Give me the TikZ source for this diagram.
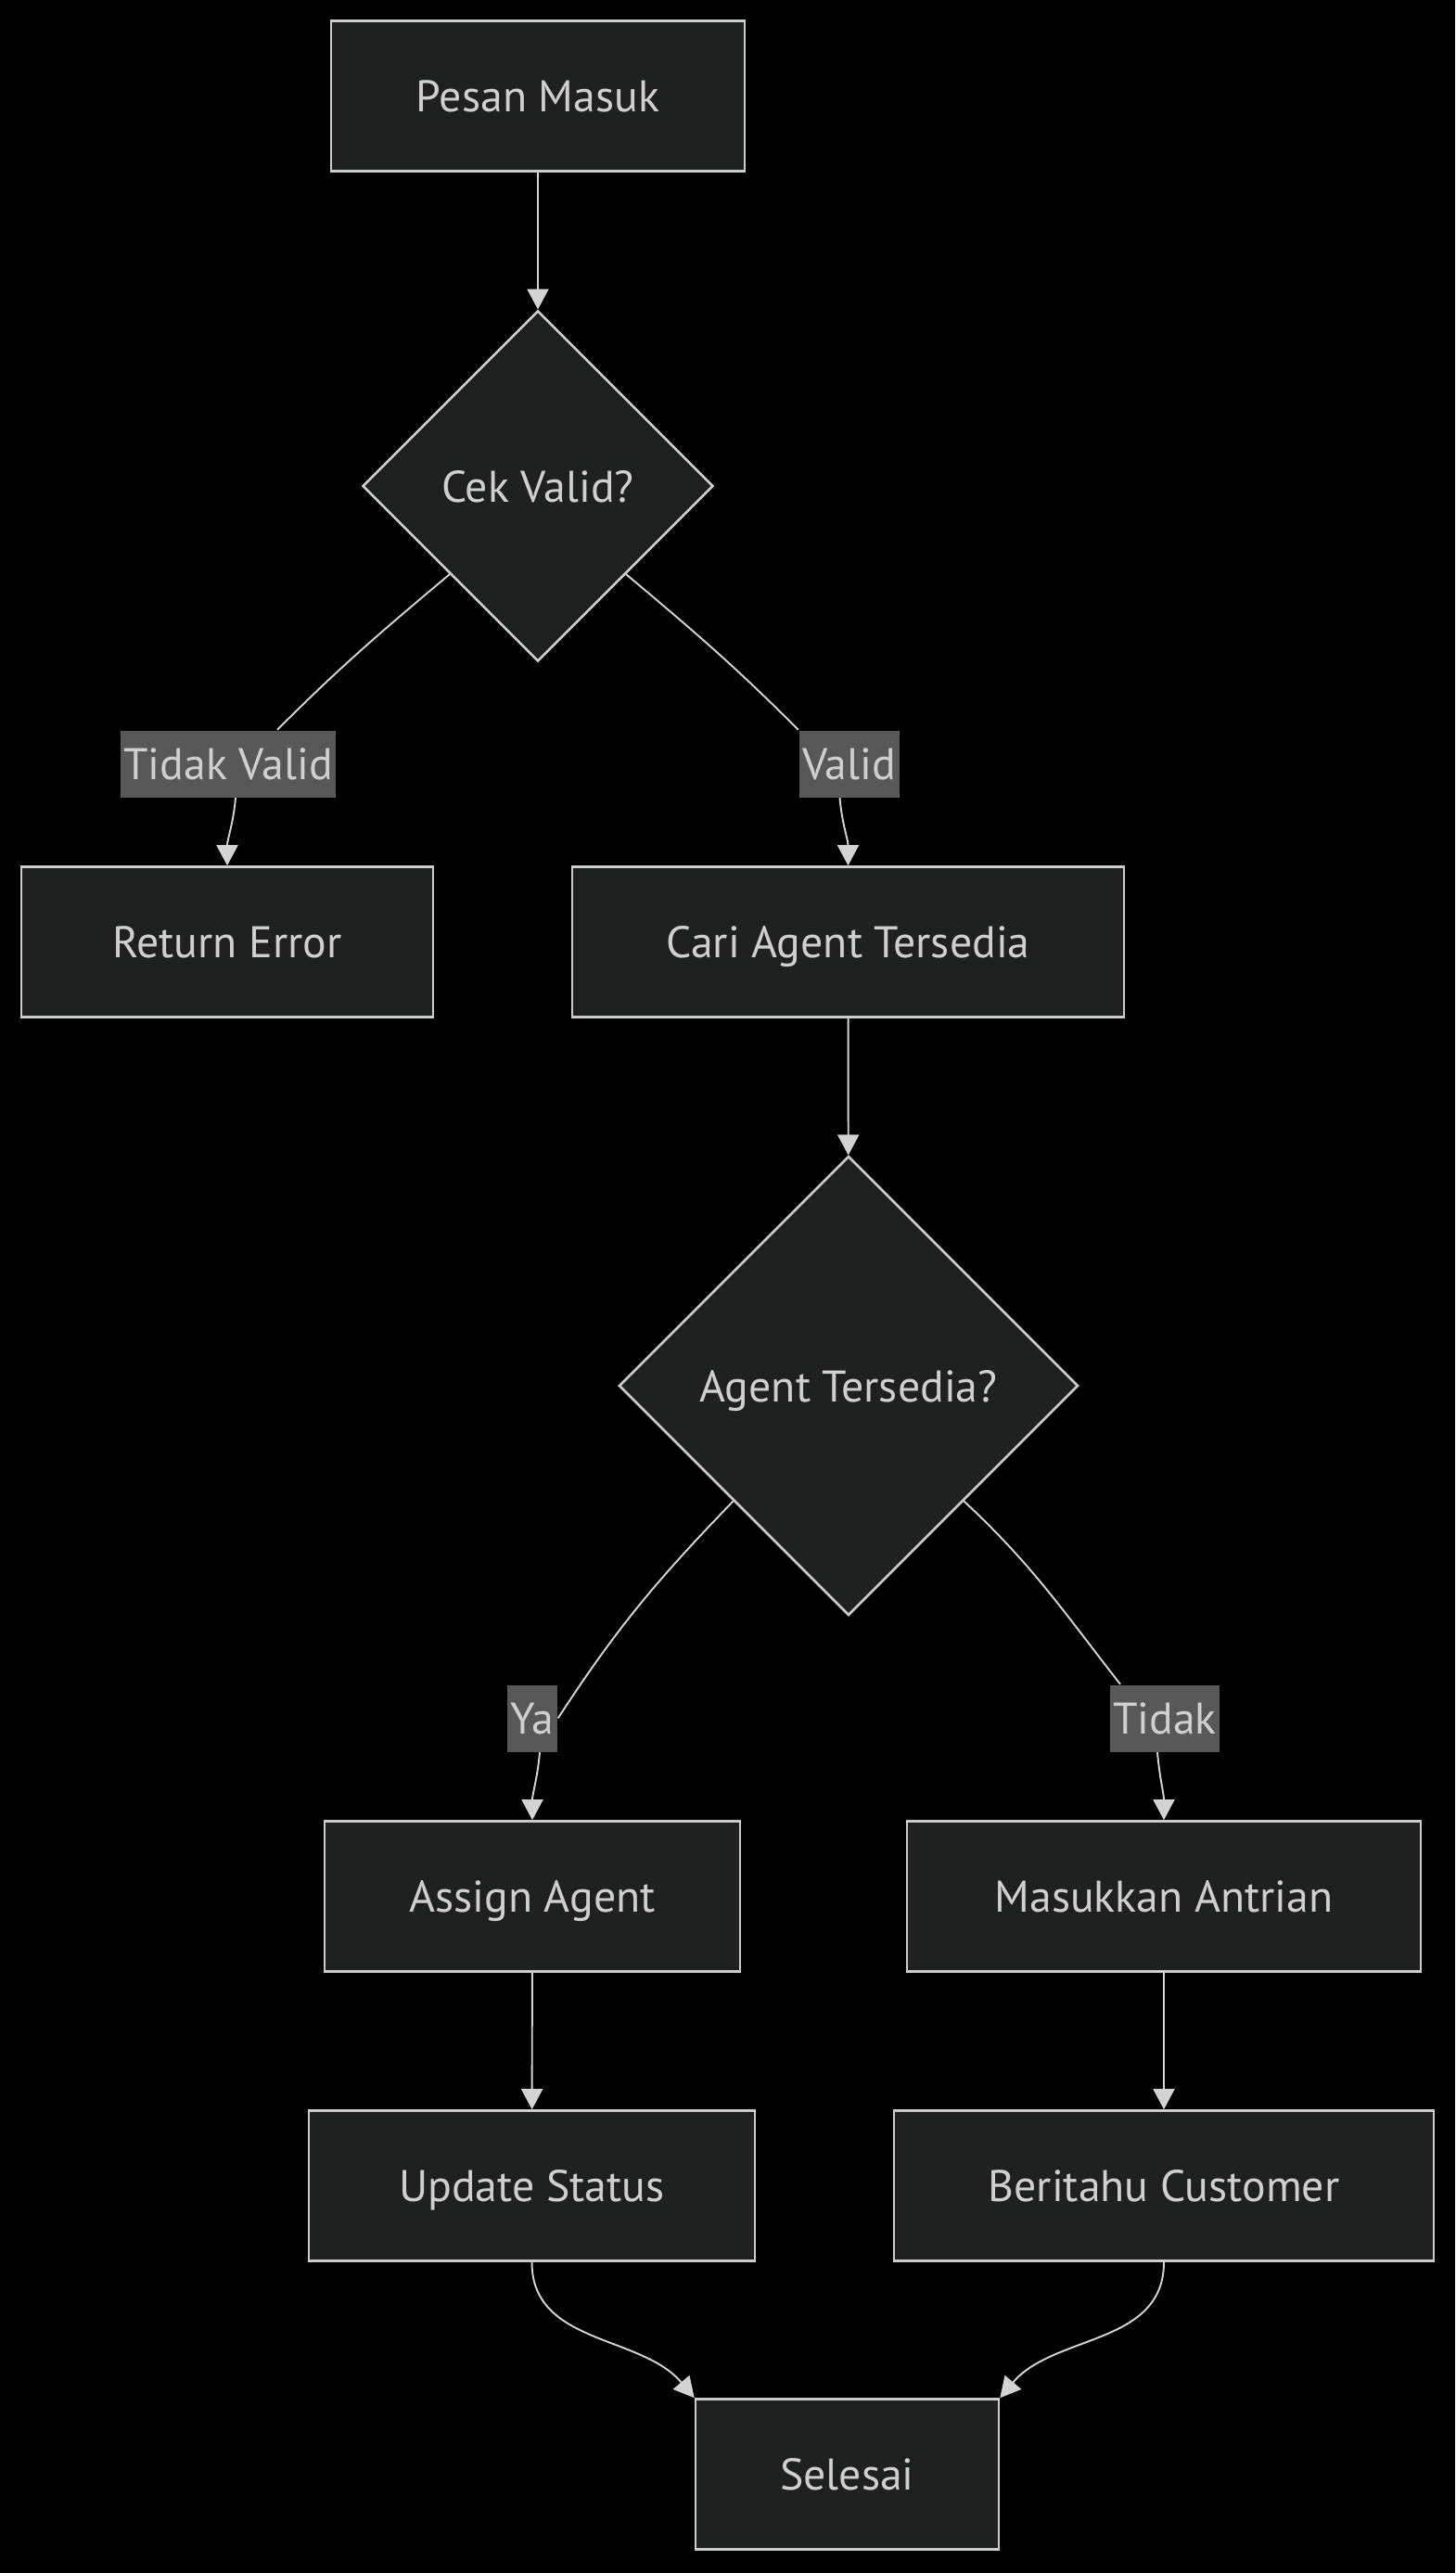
\documentclass[tikz,border=0pt]{standalone}
\usepackage{fontspec}
\setmainfont{PT Sans}
\usepackage{xcolor}
\definecolor{nodefill}{HTML}{1F2020}
\definecolor{nodeline}{HTML}{CCCCCC}
\definecolor{nodetext}{HTML}{CFCFCF}
\definecolor{lblfill}{HTML}{585858}
\definecolor{edgeline}{HTML}{D3D3D3}
\usetikzlibrary{arrows.meta,positioning,shapes.geometric}

\begin{document}
\begin{tikzpicture}[
  font=\fontsize{13.6}{16}\selectfont,
  box/.style={draw=nodeline,fill=nodefill,line width=0.75pt,text=nodetext,
    minimum height=1.62cm,inner sep=0pt,text height=9.8pt,text depth=0pt},
  dec/.style={diamond,draw=nodeline,fill=nodefill,line width=0.75pt,text=nodetext,
    inner sep=0pt,aspect=1,text height=9.8pt,text depth=0pt},
  lbl/.style={fill=lblfill,text=nodetext,inner xsep=1pt,inner ysep=0pt,minimum height=0.72cm,
    text height=9.8pt,text depth=0pt},
  line/.style={draw=edgeline,line width=0.55pt,-{Triangle[length=2.2mm,width=2.3mm]}}
]
  % background
  \fill[black] (0,0) rectangle (15.69,-27.74);
  % nodes
  \node[box,minimum width=4.46cm] (pesan) at (5.80,-1.035) {Pesan Masuk};
  \node[dec,minimum size=3.78cm] (cek) at (5.80,-5.24) {Cek Valid?};
  \node[box,minimum width=4.44cm] (error) at (2.45,-10.155) {Return Error};
  \node[box,minimum width=5.95cm] (cari) at (9.145,-10.155) {Cari Agent Tersedia};
  \node[dec,minimum size=4.95cm] (agent) at (9.15,-14.94) {Agent Tersedia?};
  \node[box,minimum width=4.48cm] (assign) at (5.74,-20.445) {Assign Agent};
  \node[box,minimum width=5.54cm] (antrian) at (12.55,-20.445) {Masukkan Antrian};
  \node[box,minimum width=4.81cm] (update) at (5.735,-23.565) {Update Status};
  \node[box,minimum width=5.82cm] (beritahu) at (12.55,-23.565) {Beritahu Customer};
  \node[box,minimum width=3.27cm] (selesai) at (9.135,-26.675) {Selesai};
  % edge labels
  \node[lbl] (tv) at (2.46,-8.235) {Tidak Valid};
  \node[lbl] (valid) at (9.155,-8.235) {Valid};
  \node[lbl] (ya) at (5.74,-18.525) {Ya};
  \node[lbl] (tidak) at (12.56,-18.525) {Tidak};
  % edges
  \draw[line] (pesan) -- (cek);
  \draw[line,-] (cek.-135) to[out=-140,in=45] ([xshift=5.3mm]tv.north);
  \draw[line] ([xshift=0.8mm]tv.south) to[out=-95,in=90] (error.north);
  \draw[line,-] (cek.-45) to[out=-40,in=135] (valid.north west);
  \draw[line] ([xshift=-1mm]valid.south) to[out=-85,in=90] (cari.north);
  \draw[line] (cari) -- (agent);
  \draw[line,-] (agent.-135) to[out=-134,in=57] (ya.east);
  \draw[line] ([xshift=0.8mm]ya.south) to[out=-95,in=90] (assign.north);
  \draw[line,-] (agent.-45) to[out=-43,in=128] ([xshift=-4.8mm]tidak.north);
  \draw[line] ([xshift=-0.8mm]tidak.south) to[out=-85,in=90] (antrian.north);
  \draw[line] (assign) -- (update);
  \draw[line] (antrian) -- (beritahu);
  \draw[line] (update.south) to[out=-90,in=130] (selesai.north west);
  \draw[line] (beritahu.south) to[out=-90,in=50] (selesai.north east);
\end{tikzpicture}
\end{document}
